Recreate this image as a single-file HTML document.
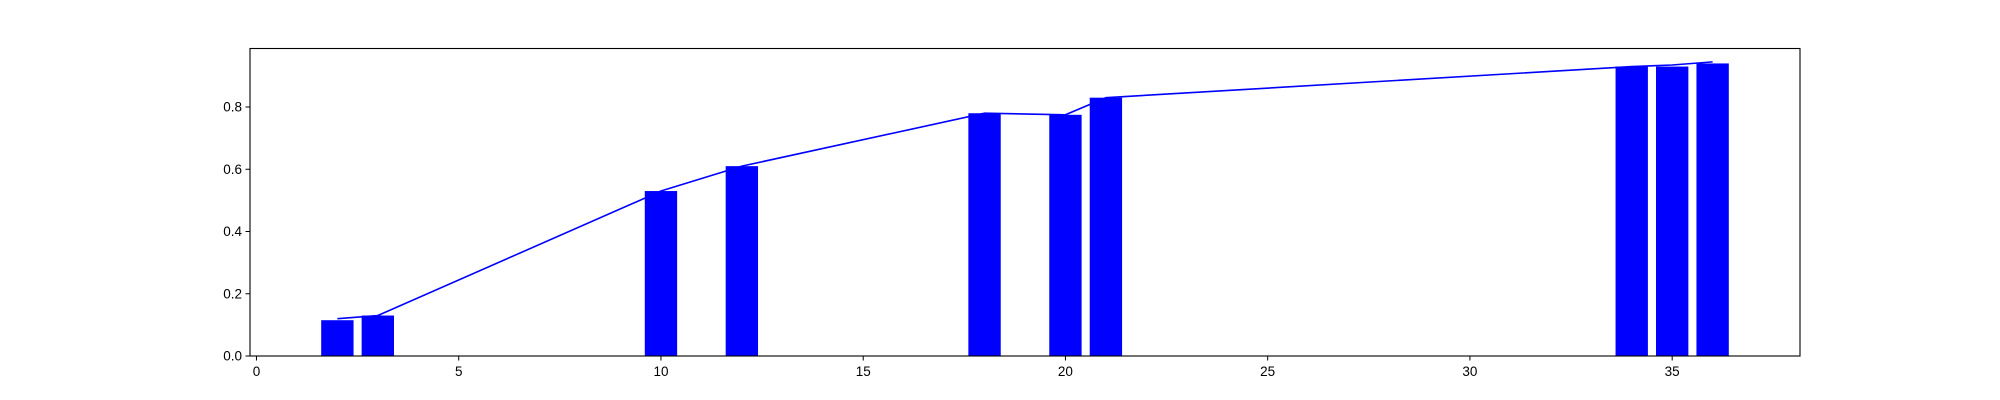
<!DOCTYPE html>
<html><head><meta charset="utf-8"><style>body{margin:0;background:#fff}svg{display:block}text{font-family:"Liberation Sans","DejaVu Sans",sans-serif;font-size:13.5px;fill:#000}</style></head>
<body>
<svg id="chart" width="2000" height="400"></svg>
<script>
const xs=[2,3,10,12,18,20,21,34,35,36];
const barVals=[0.115,0.13,0.53,0.61,0.78,0.775,0.83,0.93,0.93,0.94];
const lineVals=[0.12,0.13,0.53,0.61,0.78,0.775,0.83,0.93,0.935,0.945];
const xTicks=[0,5,10,15,20,25,30,35];
const yTicks=[0,0.2,0.4,0.6,0.8];
const L=250,R=1800,T=48.5,B=356;
const xmin=-0.16,xmax=38.16,ymin=0,ymax=0.988;
const X=v=>L+(v-xmin)/(xmax-xmin)*(R-L);
const Y=v=>B-(v-ymin)/(ymax-ymin)*(B-T);
const svg=document.getElementById('chart');
const NS='http://www.w3.org/2000/svg';
function mk(t,a){const e=document.createElementNS(NS,t);for(const k in a)e.setAttribute(k,a[k]);svg.appendChild(e);return e;}
xs.forEach((x,i)=>{
  const r=mk('rect',{x:X(x-0.4),y:Y(barVals[i]),width:X(x+0.4)-X(x-0.4),height:Y(0)-Y(barVals[i]),fill:'#0000ff'});
  
  
});
const pl=mk('polyline',{points:xs.map((x,i)=>X(x)+','+Y(lineVals[i])).join(' '),fill:'none',stroke:'#0000ff','stroke-width':1.6});


const fr=mk('rect',{x:L,y:T,width:R-L,height:B-T,fill:'none',stroke:'#000','stroke-width':1.1});


xTicks.forEach(t=>{
  mk('line',{x1:X(t),x2:X(t),y1:B,y2:B+4.5,stroke:'#000','stroke-width':1});
  const tx=mk('text',{x:X(t),y:B+20,'text-anchor':'middle'});tx.textContent=t;
  
  
});
yTicks.forEach(t=>{
  mk('line',{x1:L-4.5,x2:L,y1:Y(t),y2:Y(t),stroke:'#000','stroke-width':1});
  const tx=mk('text',{x:L-8,y:Y(t)+4.5,'text-anchor':'end'});tx.textContent=t.toFixed(1);
  
  
});
</script>
</body></html>
